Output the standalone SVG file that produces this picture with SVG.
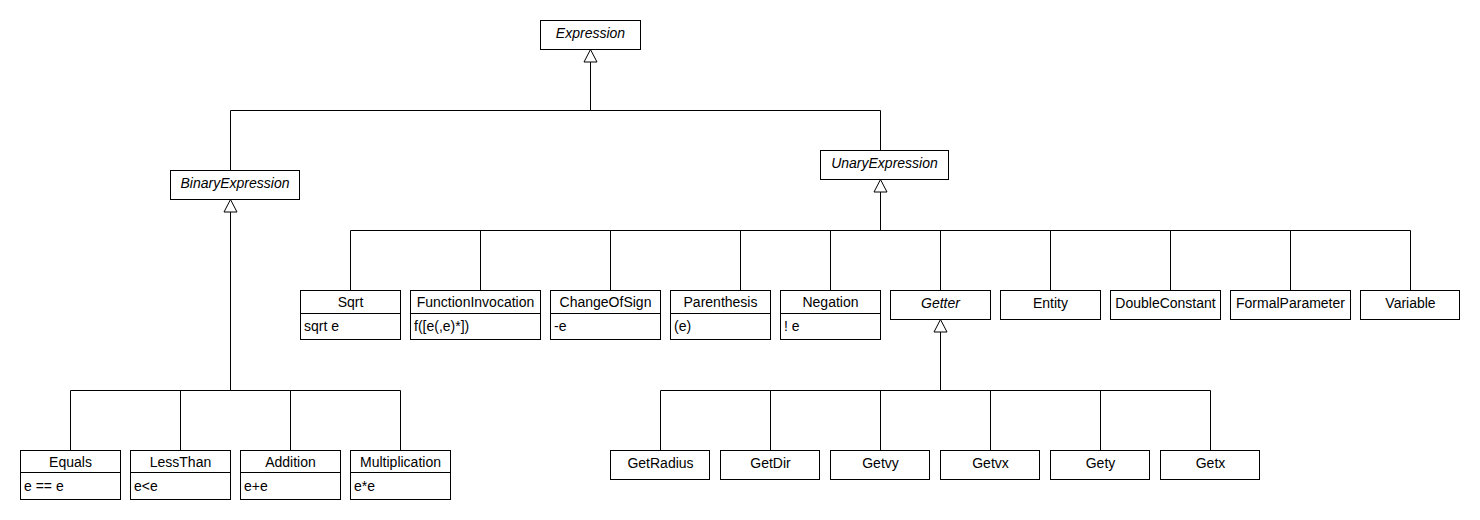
<svg xmlns="http://www.w3.org/2000/svg" width="1480" height="520" viewBox="0 0 1480 520">
<style>
.box{fill:#fff;stroke:#000;stroke-width:1}
.ln{fill:none;stroke:#000;stroke-width:1}
.tri{fill:#fff;stroke:#000;stroke-width:1}
text{font-family:"Liberation Sans",Arial,sans-serif;font-size:14px;fill:#000}
.c{text-anchor:middle}
.i{font-style:italic}
</style>
<rect width="1480" height="520" fill="#fff"/>
<g id="connectors">
<path class="ln" d="M590.5 62V110.5M230.5 110.5H880.5M230.5 110.5V170.5M880.5 110.5V150.5"/>
<path class="ln" d="M230.5 212V390.5M70.5 390.5H400.5M70.5 390.5V450.5M180.5 390.5V450.5M290.5 390.5V450.5M400.5 390.5V450.5"/>
<path class="ln" d="M880.5 192V230.5M350.5 230.5H1410.5M350.5 230.5V290.5M480.5 230.5V290.5M610.5 230.5V290.5M740.5 230.5V290.5M830.5 230.5V290.5M940.5 230.5V290.5M1050.5 230.5V290.5M1170.5 230.5V290.5M1290.5 230.5V290.5M1410.5 230.5V290.5"/>
<path class="ln" d="M940.5 332V390.5M660.5 390.5H1210.5M660.5 390.5V450.5M770.5 390.5V450.5M880.5 390.5V450.5M990.5 390.5V450.5M1100.5 390.5V450.5M1210.5 390.5V450.5"/>
<polygon class="tri" points="590.5,49.5 584,62 597,62"/>
<polygon class="tri" points="230.5,199.5 224,212 237,212"/>
<polygon class="tri" points="880.5,179.5 874,192 887,192"/>
<polygon class="tri" points="940.5,319.5 934,332 947,332"/>
</g>
<g id="Expression"><rect class="box" x="540.5" y="20.5" width="100" height="29"/><text class="c i" x="590.5" y="38">Expression</text></g>
<g id="BinaryExpression"><rect class="box" x="170.5" y="170.5" width="129" height="29"/><text class="c i" x="235" y="188">BinaryExpression</text></g>
<g id="UnaryExpression"><rect class="box" x="820.5" y="150.5" width="128" height="29"/><text class="c i" x="884.5" y="168">UnaryExpression</text></g>
<g id="Sqrt"><rect class="box" x="300.5" y="290.5" width="100" height="49"/><path class="ln" d="M300.5 313.5H400.5"/><text class="c" x="350.5" y="307">Sqrt</text><text x="304" y="331">sqrt e</text></g>
<g id="FunctionInvocation"><rect class="box" x="410.5" y="290.5" width="130" height="49"/><path class="ln" d="M410.5 313.5H540.5"/><text class="c" x="475.5" y="307">FunctionInvocation</text><text x="414" y="331">f([e(,e)*])</text></g>
<g id="ChangeOfSign"><rect class="box" x="550.5" y="290.5" width="110" height="49"/><path class="ln" d="M550.5 313.5H660.5"/><text class="c" x="605.5" y="307">ChangeOfSign</text><text x="554" y="331">-e</text></g>
<g id="Parenthesis"><rect class="box" x="670.5" y="290.5" width="100" height="49"/><path class="ln" d="M670.5 313.5H770.5"/><text class="c" x="720.5" y="307">Parenthesis</text><text x="674" y="331">(e)</text></g>
<g id="Negation"><rect class="box" x="780.5" y="290.5" width="100" height="49"/><path class="ln" d="M780.5 313.5H880.5"/><text class="c" x="830.5" y="307">Negation</text><text x="784" y="331">! e</text></g>
<g id="Getter"><rect class="box" x="890.5" y="290.5" width="100" height="29"/><text class="c i" x="940.5" y="308">Getter</text></g>
<g id="Entity"><rect class="box" x="1000.5" y="290.5" width="100" height="29"/><text class="c" x="1050.5" y="308">Entity</text></g>
<g id="DoubleConstant"><rect class="box" x="1110.5" y="290.5" width="110" height="29"/><text class="c" x="1165.5" y="308">DoubleConstant</text></g>
<g id="FormalParameter"><rect class="box" x="1230.5" y="290.5" width="120" height="29"/><text class="c" x="1290.5" y="308">FormalParameter</text></g>
<g id="Variable"><rect class="box" x="1360.5" y="290.5" width="99" height="29"/><text class="c" x="1410.5" y="308">Variable</text></g>
<g id="Equals"><rect class="box" x="20.5" y="450.5" width="100" height="49"/><path class="ln" d="M20.5 472.5H120.5"/><text class="c" x="70.5" y="467">Equals</text><text x="24" y="491">e == e</text></g>
<g id="LessThan"><rect class="box" x="130.5" y="450.5" width="100" height="49"/><path class="ln" d="M130.5 472.5H230.5"/><text class="c" x="180.5" y="467">LessThan</text><text x="134" y="491">e&lt;e</text></g>
<g id="Addition"><rect class="box" x="240.5" y="450.5" width="100" height="49"/><path class="ln" d="M240.5 472.5H340.5"/><text class="c" x="290.5" y="467">Addition</text><text x="244" y="491">e+e</text></g>
<g id="Multiplication"><rect class="box" x="350.5" y="450.5" width="100" height="49"/><path class="ln" d="M350.5 472.5H450.5"/><text class="c" x="400.5" y="467">Multiplication</text><text x="354" y="491">e*e</text></g>
<g id="GetRadius"><rect class="box" x="610.5" y="450.5" width="99" height="29"/><text class="c" x="660.5" y="468">GetRadius</text></g>
<g id="GetDir"><rect class="box" x="720.5" y="450.5" width="99" height="29"/><text class="c" x="770.5" y="468">GetDir</text></g>
<g id="Getvy"><rect class="box" x="830.5" y="450.5" width="99" height="29"/><text class="c" x="880.5" y="468">Getvy</text></g>
<g id="Getvx"><rect class="box" x="940.5" y="450.5" width="99" height="29"/><text class="c" x="990.5" y="468">Getvx</text></g>
<g id="Gety"><rect class="box" x="1050.5" y="450.5" width="99" height="29"/><text class="c" x="1100.5" y="468">Gety</text></g>
<g id="Getx"><rect class="box" x="1160.5" y="450.5" width="99" height="29"/><text class="c" x="1210.5" y="468">Getx</text></g>
</svg>
